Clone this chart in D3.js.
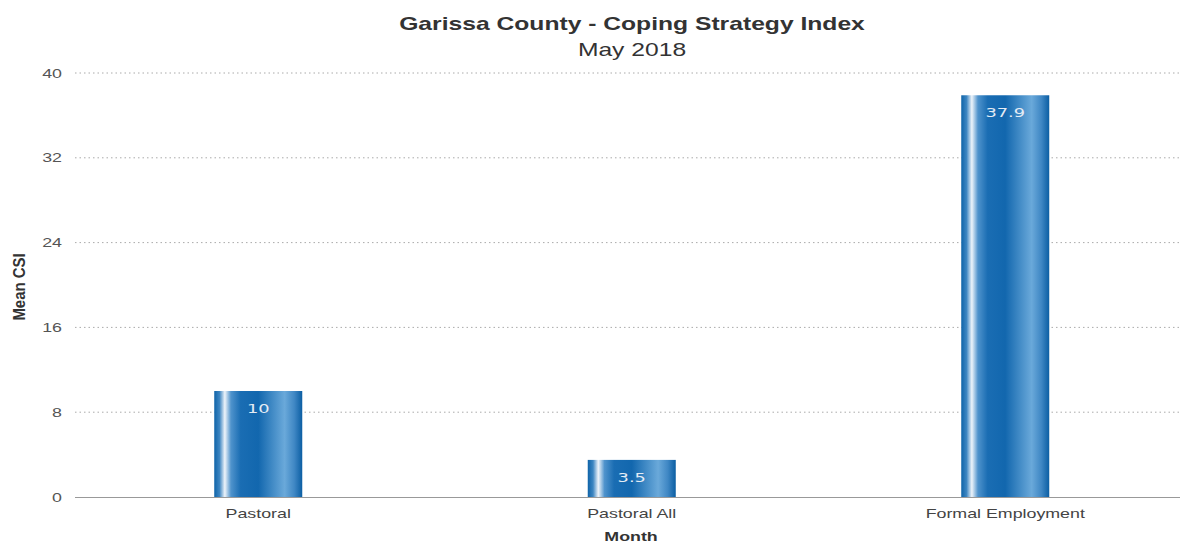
<!DOCTYPE html>
<html><head><meta charset="utf-8">
<script src="https://cdn.jsdelivr.net/npm/d3@7/dist/d3.min.js"></script>
<style>body{margin:0;background:#fff;}svg{display:block;font-family:"Liberation Sans",Arial,sans-serif;}</style>
</head><body><svg id="c" width="1182" height="543"></svg>
<script>
const categories = ["Pastoral", "Pastoral All", "Formal Employment"];
const values = [10, 3.5, 37.9];
const valueLabels = ["10", "3.5", "37.9"];
const yTicks = [0, 8, 16, 24, 32, 40];
const titleText = "Garissa County - Coping Strategy Index";
const subtitleText = "May 2018";
const yTitle = "Mean CSI";
const xTitle = "Month";

const SX = 1.37; // horizontal text stretch seen in the reference
const svg = d3.select("#c");
const x = d3.scaleBand().domain(categories).range([71.5, 1192]);
const y = d3.scaleLinear().domain([0, 40]).range([497, 73]);
const bw = 88;

const defs = svg.append("defs");
const g = defs.append("linearGradient").attr("id","bg").attr("x1","0").attr("x2","1").attr("y1","0").attr("y2","0");
[[0,"#0e63a8"],[0.06,"#3d86c2"],[0.12,"#eef4fa"],[0.19,"#4f93cc"],[0.3,"#1a6db3"],[0.5,"#1267ae"],[0.8,"#6aa9da"],[0.91,"#3f87c4"],[1,"#0b5ea3"]]
  .forEach(s => g.append("stop").attr("offset", s[0]).attr("stop-color", s[1]));

// gridlines
svg.append("g").selectAll("line").data(yTicks.filter(d => d > 0)).join("line")
  .attr("x1", 75).attr("x2", 1180).attr("y1", d => y(d)).attr("y2", d => y(d))
  .attr("stroke", "#aaa").attr("stroke-width", 1).attr("stroke-dasharray", "1.5,3");

// y axis labels
const yAxis = d3.axisLeft(y).tickValues(yTicks).tickSize(0).tickPadding(0);
const ya = svg.append("g").attr("transform", "translate(62,0)").call(yAxis);
ya.select(".domain").remove();
ya.selectAll("text").attr("fill", "#555").attr("font-size", 13)
  .attr("font-family", '"Liberation Sans",Arial,sans-serif')
  .attr("transform", `scale(${SX},1)`);

// bars
svg.append("g").selectAll("rect").data(categories).join("rect")
  .attr("x", d => x(d) + x.bandwidth()/2 - bw/2)
  .attr("width", bw)
  .attr("y", (d,i) => y(values[i]))
  .attr("height", (d,i) => y(0) - y(values[i]))
  .attr("fill", "url(#bg)");

// value labels
svg.append("g").selectAll("text").data(categories).join("text")
  .attr("transform", (d,i) => `translate(${x(d) + x.bandwidth()/2},${y(values[i]) + 22}) scale(${SX},1)`)
  .attr("text-anchor", "middle").attr("fill", "#e4ecf5").attr("font-size", 13)
  .attr("font-family", '"DejaVu Sans",sans-serif')
  .text((d,i) => valueLabels[i]);

// baseline
svg.append("line").attr("x1", 75).attr("x2", 1180).attr("y1", y(0)+0.5).attr("y2", y(0)+0.5)
  .attr("stroke", "#999").attr("stroke-width", 1);

// x axis labels
const xAxis = d3.axisBottom(x).tickSize(0).tickPadding(0);
const xa = svg.append("g").attr("transform", "translate(0,509)").call(xAxis);
xa.select(".domain").remove();
xa.selectAll("text").attr("fill", "#444").attr("font-size", 13)
  .attr("font-family", '"Liberation Sans",Arial,sans-serif')
  .attr("transform", `scale(${SX},1)`);

// titles
function stretched(tx, ty, txt, size, weight, extra) {
  return svg.append("text").attr("transform", `translate(${tx},${ty}) ${extra || ""} scale(${SX},1)`)
    .attr("text-anchor", "middle").attr("font-size", size).attr("font-weight", weight)
    .attr("fill", "#333").text(txt);
}
stretched(632, 30, titleText, 18, "bold");
stretched(632, 56, subtitleText, 18, "normal");
stretched(631, 541, xTitle, 13, "bold");
svg.append("text").attr("transform", "translate(25,287) rotate(-90) scale(1.15,1.3)")
  .attr("text-anchor", "middle").attr("font-size", 13).attr("font-weight", "bold")
  .attr("fill", "#333").text(yTitle);
</script></body></html>
